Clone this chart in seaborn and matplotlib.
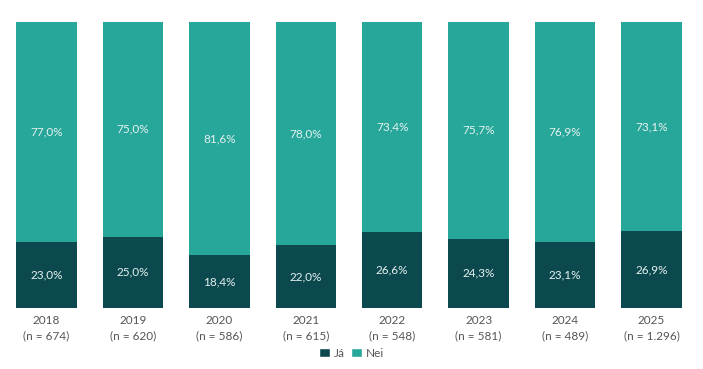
import pandas as pd
import numpy as np
import matplotlib.pyplot as plt
import seaborn as sns
from matplotlib.patches import Patch

years = ['2018', '2019', '2020', '2021', '2022', '2023', '2024', '2025']
n_counts = ['674', '620', '586', '615', '548', '581', '489', '1.296']
ja = [23.0, 25.0, 18.4, 22.0, 26.6, 24.3, 23.1, 26.9]
nei = [77.0, 75.0, 81.6, 78.0, 73.4, 75.7, 76.9, 73.1]

dark = '#0c494e'
teal = '#27a69a'
label_color = '#e6f2f0'

sns.set_style('white')
plt.rcParams['font.family'] = ['Lato', 'DejaVu Sans']

df = pd.DataFrame({'year': years, 'ja': ja, 'nei': nei})
df['total'] = df['ja'] + df['nei']

fig = plt.figure(figsize=(7.03, 3.69), dpi=100)
ax = fig.add_axes([0.0047, 0.165, 0.9835, 0.7754])

# stacked: full bar in teal, lower part in dark
sns.barplot(data=df, x='year', y='total', color=teal, width=0.7, saturation=1,
            linewidth=0, ax=ax)
sns.barplot(data=df, x='year', y='ja', color=dark, width=0.7, saturation=1,
            linewidth=0, ax=ax)

def fmt(v):
    return f'{v:.1f}%'.replace('.', ',')

for i in range(len(years)):
    ax.text(i, ja[i] / 2, fmt(ja[i]), ha='center', va='center', color=label_color, fontsize=8.5)
    ax.text(i, ja[i] + nei[i] / 2, fmt(nei[i]), ha='center', va='center', color=label_color, fontsize=8.5)

ax.set_xlim(-0.5, len(years) - 0.5)
ax.set_ylim(0, df['total'].max())
ax.set_xticks(range(len(years)))
ax.set_xticklabels([f'{y}\n(n = {n})' for y, n in zip(years, n_counts)], color='#555555',
                   fontsize=8.5, linespacing=1.45)
ax.tick_params(axis='x', length=0, pad=5)
ax.set_yticks([])
ax.set_xlabel('')
ax.set_ylabel('')
sns.despine(ax=ax, left=True, bottom=True)

handles = [Patch(facecolor=dark, label='Já'), Patch(facecolor=teal, label='Nei')]
fig.legend(handles=handles, loc='center', bbox_to_anchor=(0.5, 0.043), ncol=2, frameon=False,
           fontsize=8.5, handlelength=0.9, handleheight=0.9, handletextpad=0.3, columnspacing=0.6,
           labelcolor='#555555')

fig.savefig('out.png', dpi=100)
